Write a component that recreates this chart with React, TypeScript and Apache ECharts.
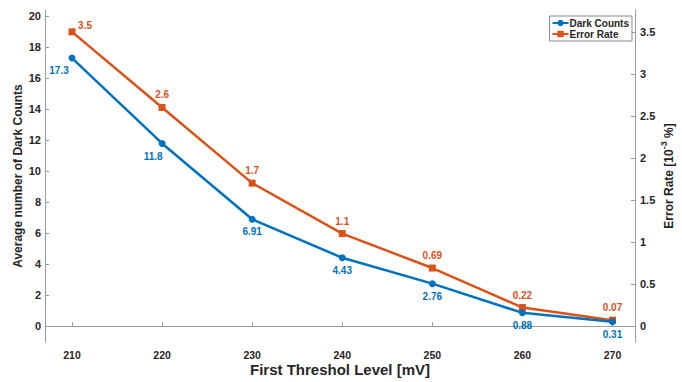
import React, { useEffect, useRef } from "react";
import * as echarts from "echarts";

const thresholds = [210, 220, 230, 240, 250, 260, 270];
const darkCounts = [17.3, 11.8, 6.91, 4.43, 2.76, 0.88, 0.31];
const errorRate = [3.5, 2.6, 1.7, 1.1, 0.69, 0.22, 0.07];
const leftTicks = [0, 2, 4, 6, 8, 10, 12, 14, 16, 18, 20];
const rightTicks = [0, 0.5, 1, 1.5, 2, 2.5, 3, 3.5];

const BLUE = "#0072BD";
const ORANGE = "#D95319";
const AXIS = "#9a9a9a";
const TXT = "#262626";
const FONT = "'Liberation Sans', Arial, Helvetica, sans-serif";

export default function App() {
  const ref = useRef<HTMLDivElement>(null);
  useEffect(() => {
    if (!ref.current) return;
    const chart = echarts.init(ref.current, undefined, { renderer: "svg" });
    const axisCommon = {
      axisLine: { show: true, lineStyle: { color: AXIS, width: 1 } },
      axisTick: { show: true, inside: true, length: 4, lineStyle: { color: AXIS } },
      splitLine: { show: false },
    };
    chart.setOption({
      animation: false,
      textStyle: { fontFamily: FONT },
      grid: { left: 45, right: 47, top: 10, bottom: 40, containLabel: false, outerBoundsMode: "none" },
      legend: {
        orient: "vertical",
        right: 50,
        top: 16,
        backgroundColor: "#fff",
        borderColor: "#8a8a8a",
        borderWidth: 1,
        padding: [2, 3, 2, 2],
        itemGap: 1,
        itemWidth: 16,
        itemHeight: 8,
        textStyle: { fontFamily: FONT, fontWeight: "bold", fontSize: 10, color: TXT, padding: [0, 0, 0, -4] },
        data: ["Dark Counts", "Error Rate"],
      },
      xAxis: {
        type: "value",
        min: 207,
        max: 272.5,
        ...axisCommon,
        axisLabel: {
          customValues: thresholds,
          fontFamily: FONT,
          fontWeight: "bold",
          fontSize: 10.5,
          color: TXT,
          margin: 7,
        },
        axisTick: { ...axisCommon.axisTick, customValues: thresholds },
        name: "First Threshol Level [mV]",
        nameLocation: "middle",
        nameMoveOverlap: false,
        nameGap: 20,
        nameTextStyle: { fontFamily: FONT, fontWeight: "bold", fontSize: 15, color: TXT },
      },
      yAxis: [
        {
          type: "value",
          position: "left",
          min: -1,
          max: 20.4,
          ...axisCommon,
          axisLabel: {
            customValues: leftTicks,
            fontFamily: FONT,
            fontWeight: "bold",
            fontSize: 11,
            color: TXT,
            margin: 4,
          },
          axisTick: { ...axisCommon.axisTick, customValues: leftTicks },
          name: "Average number of Dark Counts",
          nameLocation: "middle",
          nameMoveOverlap: false,
          nameRotate: 90,
          nameGap: 21,
          nameTextStyle: { fontFamily: FONT, fontWeight: "bold", fontSize: 12, color: TXT },
        },
        {
          type: "value",
          position: "right",
          min: -0.19,
          max: 3.76,
          ...axisCommon,
          axisLabel: {
            customValues: rightTicks,
            fontFamily: FONT,
            fontWeight: "bold",
            fontSize: 11,
            color: TXT,
            margin: 5,
          },
          axisTick: { ...axisCommon.axisTick, customValues: rightTicks },
          name: "{t|Error Rate [10}{s|-3}{t| %]}",
          nameLocation: "middle",
          nameMoveOverlap: false,
          nameRotate: 90,
          nameGap: 24,
          nameTextStyle: {
            fontFamily: FONT,
            fontWeight: "bold",
            fontSize: 12,
            color: TXT,
            rich: {
              t: { fontFamily: FONT, fontWeight: "bold", fontSize: 12, color: TXT, lineHeight: 16, verticalAlign: "bottom" },
              s: { fontFamily: FONT, fontWeight: "bold", fontSize: 9, color: TXT, lineHeight: 16, verticalAlign: "top" },
            },
          },
        },
      ],
      series: [
        {
          name: "Dark Counts",
          type: "line",
          yAxisIndex: 0,
          data: thresholds.map((t, i) => [t, darkCounts[i]]),
          symbol: "circle",
          symbolSize: 7,
          itemStyle: { color: BLUE },
          lineStyle: { color: BLUE, width: 2.5 },
          label: {
            show: true,
            position: "bottom",
            distance: 4,
            fontFamily: FONT,
            fontWeight: "bold",
            fontSize: 10,
            color: BLUE,
            formatter: (p: any) => String(darkCounts[p.dataIndex]),
          },
          labelLayout: (p: any) => {
            if (p.dataIndex === 0) return { dx: -13, dy: 0 };
            if (p.dataIndex === 1) return { dx: -9, dy: 1 };
            return {};
          },
          z: 3,
        },
        {
          name: "Error Rate",
          type: "line",
          yAxisIndex: 1,
          data: thresholds.map((t, i) => [t, errorRate[i]]),
          symbol: "rect",
          symbolSize: 7,
          itemStyle: { color: ORANGE },
          lineStyle: { color: ORANGE, width: 2.5 },
          label: {
            show: true,
            position: "top",
            distance: 4,
            fontFamily: FONT,
            fontWeight: "bold",
            fontSize: 10,
            color: ORANGE,
            formatter: (p: any) => String(errorRate[p.dataIndex]),
          },
          labelLayout: (p: any) => {
            if (p.dataIndex === 0) return { dx: 13, dy: 6 };
            return {};
          },
          z: 2,
        },
      ],
    });
    return () => chart.dispose();
  }, []);
  return (
    <div
      ref={ref}
      style={{ position: "fixed", left: 0, top: 0, width: 682, height: 382, background: "#fff" }}
    />
  );
}
